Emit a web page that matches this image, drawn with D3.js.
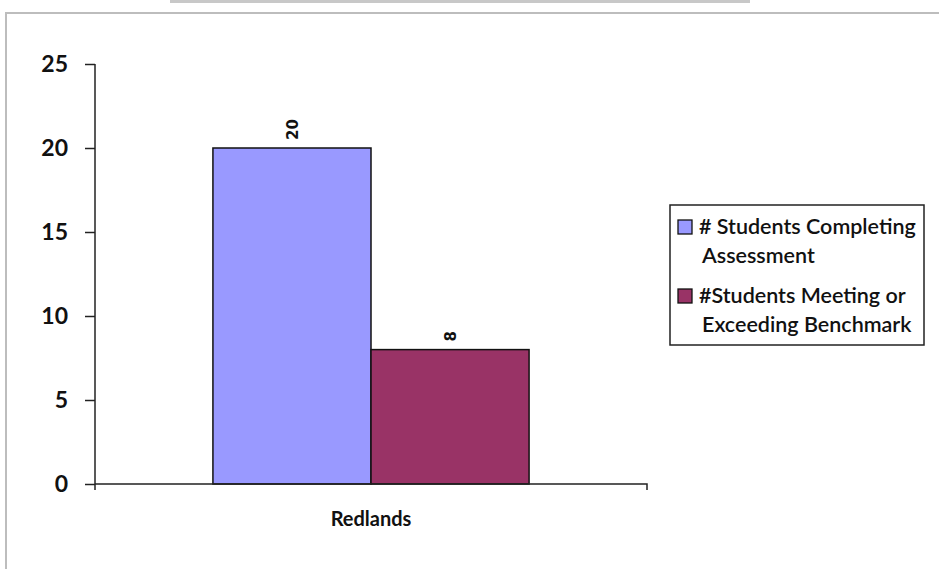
<!DOCTYPE html>
<html><head><meta charset="utf-8">
<script src="https://cdn.jsdelivr.net/npm/d3@7/dist/d3.min.js"></script>
<style>body{margin:0;background:#fff}svg{display:block}</style>
</head><body>
<svg id="c" width="939" height="569"></svg>
<script>
const categories = ["Redlands"];
const seriesNames = ["# Students Completing Assessment", "#Students Meeting or Exceeding Benchmark"];
const legendLines = [["# Students Completing", "Assessment"], ["#Students Meeting or", "Exceeding Benchmark"]];
const completing = [20];
const meeting = [8];
const yTicks = [0, 5, 10, 15, 20, 25];
const colors = ["#9999FF", "#993366"];

(function () {
const svg = d3.select("#c");
const font = "Lato, 'Open Sans', sans-serif";

// frame
svg.append("rect").attr("x", 170).attr("y", 0).attr("width", 580).attr("height", 3).attr("fill", "#c8c8c8");
svg.append("line").attr("x1", 6).attr("x2", 939).attr("y1", 13).attr("y2", 13).attr("stroke", "#bdbdbd").attr("stroke-width", 2);
svg.append("line").attr("x1", 6).attr("x2", 6).attr("y1", 12).attr("y2", 569).attr("stroke", "#bdbdbd").attr("stroke-width", 2);

const mL = 95, mR = 647, mT = 64, mB = 484;
const y = d3.scaleLinear().domain([0, 25]).range([mB, mT]);
const x0 = d3.scaleBand().domain(categories).range([mL, mR]).paddingInner(0).paddingOuter(0.373);
const x1 = d3.scaleBand().domain([0, 1]).range([0, x0.bandwidth()]);

const g = svg.append("g");
const data = categories.map((c, i) => ({cat: c, vals: [completing[i], meeting[i]]}));

data.forEach(d => {
  d.vals.forEach((v, j) => {
    const bx = x0(d.cat) + x1(j);
    g.append("rect").attr("x", bx).attr("y", y(v)).attr("width", x1.bandwidth()).attr("height", y(0) - y(v))
      .attr("fill", colors[j]).attr("stroke", "#111").attr("stroke-width", 1.5);
    const cx = bx + x1.bandwidth() / 2;
    g.append("text").attr("transform", `translate(${cx + 6},${y(v) - 8}) rotate(-90)`)
      .attr("text-anchor", "start").attr("font-family", "'DejaVu Sans', sans-serif").attr("font-weight", "bold")
      .attr("font-size", 15).attr("fill", "#111").text(v);
  });
});

// y axis
const yAxis = d3.axisLeft(y).tickValues(yTicks).tickSize(10).tickPadding(17);
const ya = svg.append("g").attr("transform", `translate(${mL},0)`).call(yAxis);
ya.select(".domain").attr("stroke", "#222").attr("stroke-width", 1.5).attr("d", `M0,${mT}V${mB + 6}`);
ya.selectAll(".tick line").attr("stroke", "#222").attr("stroke-width", 1.5);
ya.selectAll(".tick text").attr("font-family", font).attr("font-weight", "bold").attr("font-size", 23).attr("fill", "#111");

// x axis
const xa = svg.append("g").attr("transform", `translate(0,${mB})`).call(d3.axisBottom(x0).tickSize(0).tickPadding(28));
xa.select(".domain").attr("stroke", "#222").attr("stroke-width", 1.5).attr("d", `M${mL},0H${mR}V6`);
xa.selectAll(".tick text").attr("font-family", font).attr("font-weight", "bold").attr("font-size", 20).attr("fill", "#111");

// legend
const lg = svg.append("g");
lg.append("rect").attr("x", 670).attr("y", 205).attr("width", 254).attr("height", 140)
  .attr("fill", "#fff").attr("stroke", "#222").attr("stroke-width", 1.5);
legendLines.forEach((lines, i) => {
  const yy = 220 + i * 69;
  lg.append("rect").attr("x", 678).attr("y", yy).attr("width", 14).attr("height", 14)
    .attr("fill", colors[i]).attr("stroke", "#111").attr("stroke-width", 1.3);
  lines.forEach((t, k) => {
    lg.append("text").attr("x", k === 0 ? 699 : 702).attr("y", yy + 14 + k * 29)
      .attr("font-family", font).attr("font-size", 21.5).attr("font-weight", 600).attr("fill", "#111").text(t);
  });
});
})();
</script>
</body></html>
